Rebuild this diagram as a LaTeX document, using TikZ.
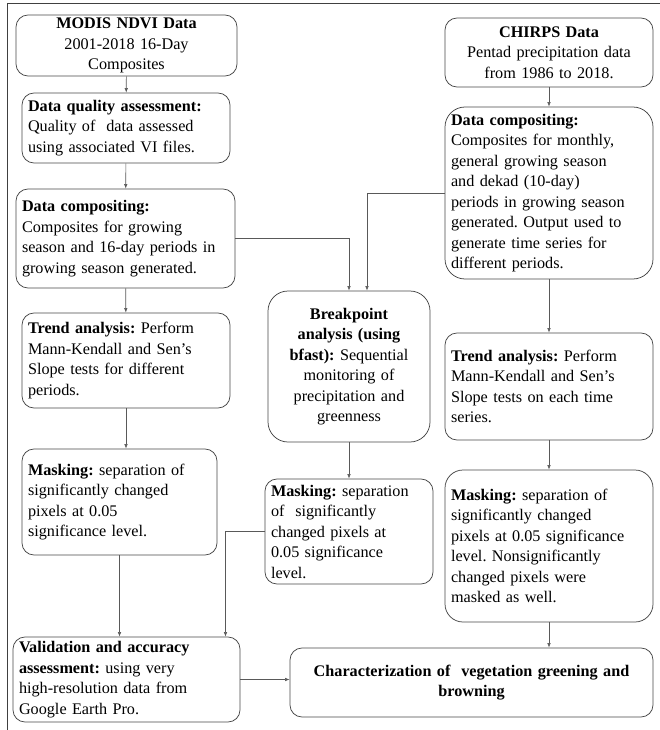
\documentclass[tikz,border=0pt]{standalone}
\usepackage{fontspec}
\setmainfont{Liberation Serif}
\usetikzlibrary{arrows.meta}
\frenchspacing
\begin{document}
\begin{tikzpicture}[x=1pt,y=-1pt,
  box/.style={draw=black!72, line width=0.75pt, rounded corners=12pt, align=left,
    inner xsep=6pt, inner ysep=0pt, font=\fontsize{16.2}{20.5}\selectfont},
  cbox/.style={box, align=center},
  link/.style={draw=black!65, line width=0.6pt, -{Latex[length=4.5pt,width=3.5pt]}},
  frame/.style={draw=black!75, line width=1pt}]
\useasboundingbox (0,0) rectangle (660,730);
% frame
\coordinate (f1) at (7,4);
\coordinate (f2) at (660,4);
\coordinate (f3) at (7,730);
\draw[frame] (f2) -- (f1) -- (f3);

% left column
\node[cbox, minimum width=221pt, minimum height=61pt, text width=209pt] (modis) at (126.5,45.5)
  {\textbf{MODIS NDVI Data}\\2001-2018 16-Day\\Composites};
\node[box, minimum width=208pt, minimum height=70pt, text width=196pt] (dqa) at (126,128)
  {\textbf{Data quality assessment:}\\Quality of\ \ data assessed\\using associated VI files.};
\node[box, minimum width=219pt, minimum height=99pt, text width=207pt] (dcl) at (125.5,238.5)
  {\textbf{Data compositing:}\\Composites for growing\\season and 16-day periods in\\growing season generated.};
\node[box, minimum width=208pt, minimum height=95pt, text width=196pt] (trl) at (126,360.5)
  {\textbf{Trend analysis:} Perform\\Mann-Kendall and Sen's\\Slope tests for different\\periods.};
\node[box, minimum width=195pt, minimum height=106pt, text width=183pt] (mkl) at (119.5,502)
  {\textbf{Masking:} separation of\\significantly changed\\pixels at 0.05\\significance level.};
\node[box, minimum width=227pt, minimum height=85pt, text width=215pt] (val) at (126.5,679.5)
  {\textbf{Validation and accuracy}\\\textbf{assessment:} using very\\high-resolution data from\\Google Earth Pro.};

% middle column
\node[cbox, rounded corners=20pt, minimum width=162pt, minimum height=151pt, text width=150pt] (bp) at (349,366.5)
  {\textbf{Breakpoint}\\\textbf{analysis (using}\\\textbf{bfast):} Sequential\\monitoring of\\precipitation and\\greenness};
\node[box, minimum width=168pt, minimum height=105pt, text width=156pt] (mkm) at (349,531.5)
  {\textbf{Masking:} separation\\of\ \ significantly\\changed pixels at\\0.05 significance\\level.};

% right column
\node[cbox, minimum width=208pt, minimum height=69pt, text width=196pt] (chirps) at (549,52.5)
  {\textbf{CHIRPS Data}\\Pentad precipitation data\\from 1986 to 2018.};
\node[box, rounded corners=20pt, minimum width=208pt, minimum height=172pt, text width=196pt] (dcr) at (549,193)
  {\textbf{Data compositing:}\\Composites for monthly,\\general growing season\\and dekad (10-day)\\periods in growing season\\generated. Output used to\\generate time series for\\different periods.};
\node[box, minimum width=208pt, minimum height=107pt, text width=196pt] (trr) at (549,386.5)
  {\textbf{Trend analysis:} Perform\\Mann-Kendall and Sen's\\Slope tests on each time\\series.};
\node[box, rounded corners=18pt, minimum width=208pt, minimum height=152pt, text width=196pt] (mkr) at (549,546)
  {\textbf{Masking:} separation of\\significantly changed\\pixels at 0.05 significance\\level. Nonsignificantly\\changed pixels were\\masked as well.};
\node[cbox, minimum width=363pt, minimum height=69pt, text width=351pt] (chr) at (471.5,682.5)
  {\textbf{Characterization of\ \ vegetation greening and}\\\textbf{browning}};

% connectors
\draw[link] (modis) -- (dqa);
\draw[link] (dqa) -- (dcl);
\draw[link] (dcl) -- (trl);
\draw[link] (trl.south) -- (trl.south |- mkl.north);
\draw[link] (mkl.south) -- (mkl.south |- val.north);
\draw[link] (dcl.east) -| (bp.north);
\draw[link] (dcr.west) -| ([xshift=18pt]bp.north);
\draw[link] (bp) -- (mkm);
\draw[link] (mkm.west) -| ([xshift=99pt]val.north);
\draw[link] (val.east) -- (val.east -| chr.west);
\draw[link] (chirps) -- (dcr);
\draw[link] (dcr) -- (trr);
\draw[link] (trr) -- (mkr);
\draw[link] (mkr.south) -- (mkr.south |- chr.north);
\end{tikzpicture}
\end{document}
